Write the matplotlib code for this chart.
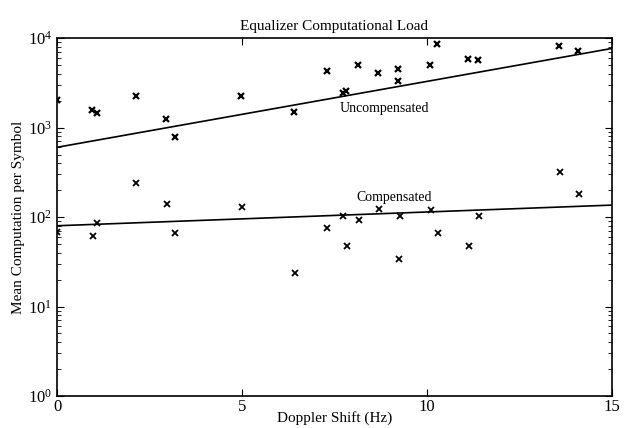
import matplotlib

matplotlib.use("Agg")
import matplotlib.pyplot as plt
import numpy as np

plt.rcParams["font.family"] = ["Liberation Serif", "DejaVu Serif"]
plt.rcParams["mathtext.fontset"] = "custom"
plt.rcParams["mathtext.rm"] = "Liberation Serif"
plt.rcParams["mathtext.it"] = "Liberation Serif:italic"

# Doppler shift (Hz) and mean computation per symbol
uncomp_x = [0.0, 0.94, 1.08, 2.13, 2.94, 3.2, 4.98, 6.4, 7.3, 7.72, 7.8,
            8.14, 8.68, 9.22, 9.22, 10.08, 10.27, 11.1, 11.37, 13.58, 14.07]
uncomp_y = [2050, 1580, 1450, 2240, 1245, 784, 2240, 1480, 4280, 2450, 2560,
            4990, 4060, 4500, 3300, 5000, 8700, 5820, 5700, 8150, 7150]

comp_x = [0.0, 0.97, 1.08, 2.13, 2.96, 3.2, 4.99, 6.44, 7.3, 7.74, 7.84,
          8.17, 8.7, 9.27, 9.25, 10.1, 10.3, 11.13, 11.4, 13.6, 14.1]
comp_y = [68, 61, 85, 240, 140, 66, 129, 23.6, 75, 104, 47,
          93, 123, 104, 34, 120, 66, 47, 102, 316, 180]

# log-linear trend lines: log10(y) = a + b * x
uncomp_fit = (2.78, 0.0737)
comp_fit = (1.903, 0.0154)

fig = plt.figure(figsize=(6.25, 4.28), dpi=100)
ax = fig.add_axes([0.0912, 0.0748, 0.888, 0.836])

ax.plot(uncomp_x, uncomp_y, "x", color="black", ms=4, mew=1.6)
ax.plot(comp_x, comp_y, "x", color="black", ms=4, mew=1.3)

xs = np.array([0.0, 15.0])
for a, b in (uncomp_fit, comp_fit):
    ax.plot(xs, 10 ** (a + b * xs), color="black", lw=1.2)

ax.set_yscale("log")
ax.set_xlim(0, 15)
ax.set_ylim(1, 1e4)
ax.set_xticks([0, 5, 10, 15])

ax.tick_params(which="both", direction="in", top=True, right=True,
               labelsize=12, colors="black")
ax.tick_params(axis="x", pad=2)
ax.tick_params(which="major", length=5)
ax.tick_params(which="minor", length=3)
for s in ax.spines.values():
    s.set_linewidth(1.2)

ax.text(8.84, 1650, "Uncompensated", ha="center", va="center", fontsize=10)
ax.text(9.1, 167, "Compensated", ha="center", va="center", fontsize=10)

ax.set_title("Equalizer Computational Load", fontsize=11, pad=6)
ax.set_xlabel("Doppler Shift (Hz)", fontsize=11, labelpad=-3)
ax.set_ylabel("Mean Computation per Symbol", fontsize=11, labelpad=2)

fig.savefig("out.png", dpi=100)
plt.close(fig)
